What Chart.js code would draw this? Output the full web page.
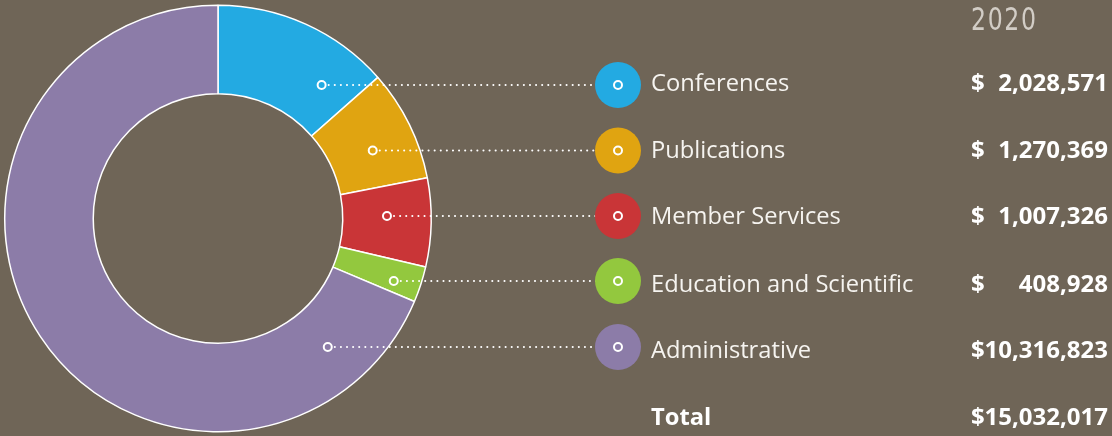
<!DOCTYPE html>
<html lang="en">
  <head>
    <meta charset="UTF-8" />
    <title>Expenses 2020</title>
    <script src="https://cdn.jsdelivr.net/npm/chart.js"></script>
    <style>
      * {
        margin: 0;
        padding: 0;
        box-sizing: border-box;
      }

      body {
        width: 1112px;
        height: 436px;
        overflow: hidden;
        background: #6f6557;
        font-family: "Open Sans", "DejaVu Sans", sans-serif;
        position: relative;
      }

      #chart {
        position: absolute;
        left: 0;
        top: 0;
      }

      .year {
        position: absolute;
        left: 971px;
        top: 1px;
        font-family: "DejaVu Sans Condensed", "DejaVu Sans", sans-serif;
        font-size: 32px;
        letter-spacing: 2px;
        color: #d2cdc6;
        line-height: 36px;
        transform: scaleX(0.82);
        transform-origin: left center;
      }

      .row {
        position: absolute;
        left: 0;
        width: 1112px;
        height: 30px;
        line-height: 30px;
        color: #f6f4f0;
      }

      .row .label {
        position: absolute;
        left: 651px;
        font-size: 23.7px;
      }

      .row .value {
        position: absolute;
        left: 971px;
        width: 137px;
        font-size: 24px;
        font-weight: bold;
        color: #fff;
      }

      .row .value .num {
        position: absolute;
        right: 0;
      }

      .row.total .label {
        font-weight: bold;
        color: #fff;
      }
    </style>
  </head>
  <body>
    <canvas id="chart" width="1112" height="436"></canvas>
    <div class="year">2020</div>
    <div id="rows"></div>

    <script>
      const categories = [
        "Conferences",
        "Publications",
        "Member Services",
        "Education and Scientific",
        "Administrative",
      ];
      const amounts = [2028571, 1270369, 1007326, 408928, 10316823];
      const colors = ["#23aae2", "#e0a411", "#c93537", "#93c83e", "#8c7ca8"];
      const totalAmount = 15032017;

      // layout of the legend rows
      const dotY = [85, 150.5, 216, 281, 347];
      const textY = [82, 148.5, 215, 282.5, 349];
      const totalY = 416;
      const dotX = 618;

      const fmt = (n) => n.toLocaleString("en-US");

      // text rows
      const rowsEl = document.getElementById("rows");
      function addRow(label, value, y, cls) {
        const div = document.createElement("div");
        div.className = "row" + (cls ? " " + cls : "");
        div.style.top = y - 15 + "px";
        div.innerHTML =
          '<span class="label">' + label + "</span>" +
          '<span class="value">$<span class="num">' + fmt(value) + "</span></span>";
        rowsEl.appendChild(div);
      }
      categories.forEach((c, i) => addRow(c, amounts[i], textY[i]));
      addRow("Total", totalAmount, totalY, "total");

      // find a point of the slice on the row line
      function slicePoint(arc, y) {
        const cx = arc.x, cy = arc.y;
        const start = arc.startAngle, end = arc.endAngle;
        const rIn = arc.innerRadius, rOut = arc.outerRadius;
        const dy = y - cy;
        const inSlice = (px) => {
          const dx = px - cx;
          const r = Math.hypot(dx, dy);
          if (r < rIn || r > rOut) return null;
          let a = Math.atan2(dy, dx);
          while (a < start) a += Math.PI * 2;
          while (a > start + Math.PI * 2) a -= Math.PI * 2;
          if (a > end) return null;
          return Math.min(a - start, end - a) * r;
        };
        const rm = (rIn + rOut) / 2;
        if (Math.abs(dy) < rm) {
          const px = cx + Math.sqrt(rm * rm - dy * dy);
          const d = inSlice(px);
          if (d !== null && d > 8) return px;
        }
        let minX = null, maxX = null;
        for (let px = cx; px <= cx + rOut; px += 0.5) {
          if (inSlice(px) !== null) {
            if (minX === null) minX = px;
            maxX = px;
          }
        }
        return minX === null ? cx : (minX + maxX) / 2;
      }

      const connectors = {
        id: "connectors",
        afterDatasetsDraw(chart) {
          const ctx = chart.ctx;
          const arcs = chart.getDatasetMeta(0).data;
          arcs.forEach((arc, i) => {
            const y = dotY[i];
            const px = slicePoint(arc, y);

            ctx.save();
            ctx.strokeStyle = "#ffffff";
            ctx.lineWidth = 2;
            ctx.setLineDash([0.1, 6]);
            ctx.lineCap = "round";
            ctx.beginPath();
            ctx.moveTo(px + 7, y);
            ctx.lineTo(dotX, y);
            ctx.stroke();
            ctx.setLineDash([]);

            ctx.fillStyle = colors[i];
            ctx.beginPath();
            ctx.arc(dotX, y, 23, 0, Math.PI * 2);
            ctx.fill();

            ctx.lineWidth = 2;
            [px, dotX].forEach((x) => {
              ctx.beginPath();
              ctx.arc(x, y, 4, 0, Math.PI * 2);
              ctx.fillStyle = colors[i];
              ctx.fill();
              ctx.stroke();
            });
            ctx.restore();
          });
        },
      };

      new Chart(document.getElementById("chart"), {
        type: "doughnut",
        data: {
          labels: categories,
          datasets: [
            {
              data: amounts,
              backgroundColor: colors,
              borderColor: "#ffffff",
              borderWidth: 1.5,
            },
          ],
        },
        options: {
          responsive: false,
          devicePixelRatio: 1,
          animation: false,
          cutout: "58.5%",
          layout: {
            padding: { left: 4, top: 4, bottom: 3, right: 680 },
          },
          plugins: {
            legend: { display: false },
            tooltip: { enabled: false },
          },
        },
        plugins: [connectors],
      });
    </script>
  </body>
</html>
